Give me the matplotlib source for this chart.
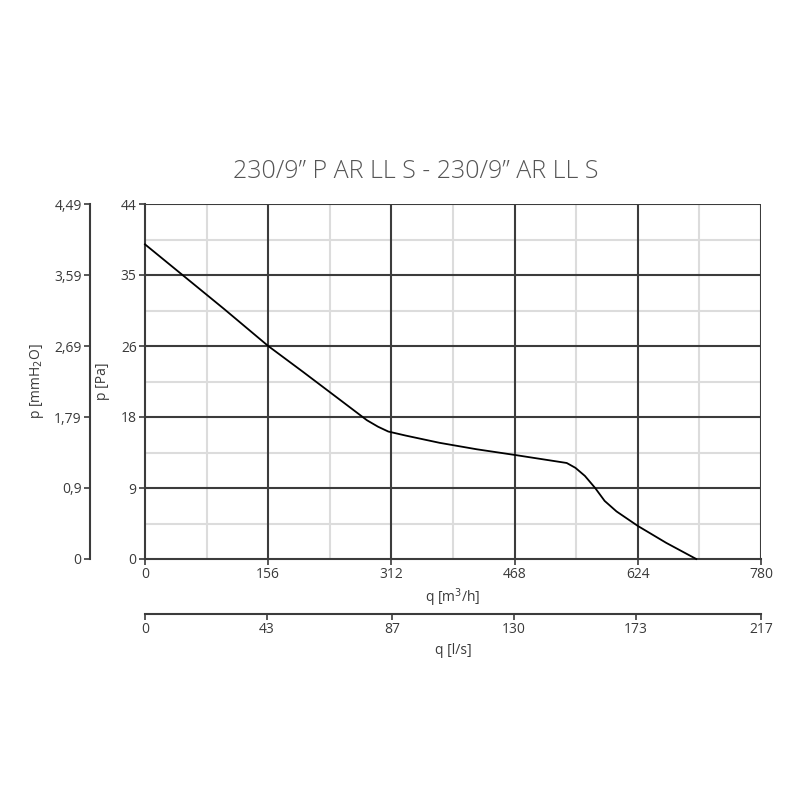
import matplotlib.pyplot as plt

plt.rcParams['font.family'] = ['Open Sans', 'DejaVu Sans']

# curve: q [m3/h] vs p [Pa]
q_m3h = [0, 50, 100, 156, 200, 250, 281, 295, 308, 330, 373, 420, 468, 534, 545, 557, 570, 582, 597, 624, 660, 698]
p_pa = [39.0, 35.0, 31.0, 26.4, 23.2, 19.5, 17.2, 16.4, 15.8, 15.3, 14.4, 13.6, 12.9, 11.9, 11.3, 10.3, 8.8, 7.2, 5.9, 4.1, 2.0, 0.0]

q_ticks = [0, 156, 312, 468, 624, 780]
q_minor = [78, 234, 390, 546, 702]
pa_ticks = [0, 8.8, 17.6, 26.4, 35.2, 44]
pa_labels = ['0', '9', '18', '26', '35', '44']
pa_minor = [4.4, 13.2, 22.0, 30.8, 39.6]
mm_ticks = [0, 0.9, 1.79, 2.69, 3.59, 4.49]
mm_labels = ['0', '0,9', '1,79', '2,69', '3,59', '4,49']
ls_ticks = [0, 43, 87, 130, 173, 217]

title = '230/9\u201d P AR LL S - 230/9\u201d AR LL S'

dark = '#3c3c3c'
light = '#dcdcdc'
txt = '#3a3a3a'
fs = 10

fig = plt.figure(figsize=(8, 8), dpi=100)

# main chart
ax = fig.add_axes([145/800, 1 - 559/800, 616/800, 355/800])
ax.set_xlim(0, 780)
ax.set_ylim(0, 44)
for x in q_minor:
    ax.axvline(x, color=light, lw=1.5, zorder=1)
for y in pa_minor:
    ax.axhline(y, color=light, lw=1.5, zorder=1)
for x in q_ticks[1:]:
    ax.axvline(x, color=dark, lw=1.5, zorder=2)
for y in pa_ticks[1:]:
    ax.axhline(y, color=dark, lw=1.5, zorder=2)
ax.plot(q_m3h, p_pa, color='black', lw=1.3, zorder=3, clip_on=False)

for s in ['top', 'right']:
    ax.spines[s].set_visible(False)
for s in ['left', 'bottom']:
    ax.spines[s].set_color(dark)
    ax.spines[s].set_linewidth(1.5)
ax.set_xticks(q_ticks)
ax.set_xticklabels([str(v) for v in q_ticks])
ax.set_yticks(pa_ticks)
ax.set_yticklabels(pa_labels)
ax.tick_params(colors=dark, labelcolor=txt, labelsize=fs, length=4, width=1.2, pad=2)
ax.set_xlabel('q [m$^3$/h]', fontsize=fs, color=txt, labelpad=3)
ax.set_ylabel('p [Pa]', fontsize=fs, color=txt, labelpad=8)

fig.text(416/800, 1 - 172/800, title, fontsize=18, color='#555555',
         fontweight='light', ha='center', va='center')

# mmH2O axis
ax_mm = fig.add_axes([90/800, 1 - 559/800, 0.0001, 355/800])
ax_mm.set_ylim(0, 4.49)
ax_mm.set_xticks([])
ax_mm.patch.set_visible(False)
for s in ['top', 'right', 'bottom']:
    ax_mm.spines[s].set_visible(False)
ax_mm.spines['left'].set_color(dark)
ax_mm.spines['left'].set_linewidth(1.5)
ax_mm.set_yticks(mm_ticks)
ax_mm.set_yticklabels(mm_labels)
ax_mm.tick_params(colors=dark, labelcolor=txt, labelsize=fs, length=4, width=1.2, pad=2)
ax_mm.set_ylabel('p [mmH$_2$O]', fontsize=fs, color=txt, labelpad=6)

# l/s axis
ax_ls = fig.add_axes([145/800, 1 - 614/800, 616/800, 0.0001])
ax_ls.set_xlim(0, 217)
ax_ls.set_yticks([])
ax_ls.patch.set_visible(False)
for s in ['top', 'right', 'left']:
    ax_ls.spines[s].set_visible(False)
ax_ls.spines['bottom'].set_color(dark)
ax_ls.spines['bottom'].set_linewidth(1.5)
ax_ls.set_xticks(ls_ticks)
ax_ls.set_xticklabels([str(v) for v in ls_ticks])
ax_ls.tick_params(colors=dark, labelcolor=txt, labelsize=fs, length=4, width=1.2, pad=2)
ax_ls.set_xlabel('q [l/s]', fontsize=fs, color=txt, labelpad=4)

fig.savefig('out.png', dpi=100)
